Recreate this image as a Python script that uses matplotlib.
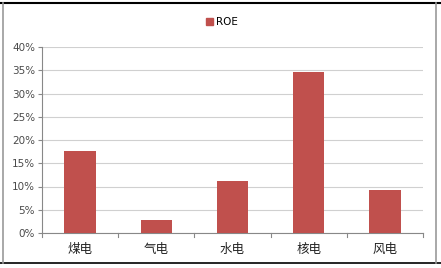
import matplotlib
matplotlib.use("Agg")
import matplotlib.pyplot as plt
from matplotlib.lines import Line2D
from matplotlib.patches import Patch
import numpy as np

categories = ["煤电", "气电", "水电", "核电", "风电"]
roe = [17.7, 2.8, 11.2, 34.6, 9.2]
yticks = [0, 5, 10, 15, 20, 25, 30, 35, 40]
series_name = "ROE"

plt.rcParams['font.family'] = ['Noto Sans CJK SC', 'DejaVu Sans']

fig = plt.figure(figsize=(4.41, 2.68), dpi=100)
W, H = 441, 268
ax = fig.add_axes([42 / W, 1 - 233 / H, (423 - 42) / W, (233 - 47) / H])

x = np.arange(len(categories))
ax.bar(x, roe, width=0.41, color="#C0504D", zorder=3)
ax.set_xlim(-0.5, len(categories) - 0.5)
ax.set_ylim(0, 40)
ax.set_yticks(yticks)
ax.set_yticklabels([f"{v}%" for v in yticks], fontsize=7.5, color="#4a4a4a",
                   family=['DejaVu Sans'])
ax.set_xticks(x)
ax.set_xticklabels(categories, fontsize=9, color="#222222")
ax.tick_params(axis='x', length=0, pad=7)
ax.tick_params(axis='y', length=3, color="#888888", pad=2)
for b in np.arange(-0.5, len(categories), 1.0):
    ax.plot([b, b], [0, -0.8], color="#888888", lw=0.8, clip_on=False, zorder=4)
ax.grid(axis='y', color="#D0D0D0", lw=0.8, zorder=0)
for s in ['top', 'right']:
    ax.spines[s].set_visible(False)
ax.spines['left'].set_color("#888888")
ax.spines['bottom'].set_color("#888888")
ax.spines['left'].set_linewidth(0.8)
ax.spines['bottom'].set_linewidth(0.8)

fig.legend(handles=[Patch(color="#C0504D", label=series_name)],
           loc='center', bbox_to_anchor=(222 / W, 1 - 22 / H), frameon=False,
           handlelength=0.7, handleheight=0.7, handletextpad=0.3,
           prop={'family': 'DejaVu Sans', 'size': 7.5})

# outer frame
fig.add_artist(Line2D([0, 1], [1 - 3 / H, 1 - 3 / H], color="black", lw=1.5, transform=fig.transFigure))
fig.add_artist(Line2D([0, 1], [1 - 263 / H, 1 - 263 / H], color="black", lw=1.2, transform=fig.transFigure))
fig.add_artist(Line2D([3 / W, 3 / W], [1 - 263 / H, 1 - 3 / H], color="#999999", lw=1.2, transform=fig.transFigure))
fig.add_artist(Line2D([436 / W, 436 / W], [1 - 263 / H, 1 - 3 / H], color="#999999", lw=1.2, transform=fig.transFigure))

fig.savefig("out.png", dpi=100)
